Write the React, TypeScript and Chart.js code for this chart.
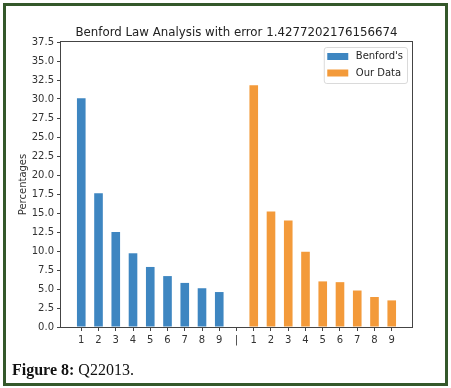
import React, { useEffect, useRef } from "react";
import { Chart, registerables } from "chart.js";

Chart.register(...registerables);

const categories = ["1", "2", "3", "4", "5", "6", "7", "8", "9", "|", "1", "2", "3", "4", "5", "6", "7", "8", "9"];
const benfordValues = [30.1, 17.6, 12.5, 9.7, 7.9, 6.7, 5.8, 5.1, 4.6];
const ourDataValues = [31.8, 15.2, 14.0, 9.9, 6.0, 5.9, 4.8, 3.95, 3.5];
const benfordStart = 0;
const ourStart = 10;
const yTicks = { min: 0, max: 37.5, step: 2.5 };
const titleText = "Benford Law Analysis with error 1.4277202176156674";
const yTitle = "Percentages";
const seriesNames = ["Benford's", "Our Data"];
const seriesColors = ["#3e86c1", "#f39a3a"];

const FONT = "'DejaVu Sans', sans-serif";

const framePlugin = {
  id: "frame",
  afterDatasetsDraw(chart: any) {
    const { ctx, chartArea: a } = chart;
    ctx.save();
    ctx.strokeStyle = "#444";
    ctx.lineWidth = 1;
    ctx.strokeRect(a.left - 0.5, a.top - 0.5, a.right - a.left + 1, a.bottom - a.top + 1);
    ctx.restore();
  },
  afterDraw(chart: any) {
    const { ctx, chartArea: a } = chart;
    const ds = chart.data.datasets;
    ctx.save();
    // title centred over the plot area
    ctx.font = "11.8px " + FONT;
    ctx.fillStyle = "#222";
    ctx.textAlign = "center";
    ctx.textBaseline = "alphabetic";
    ctx.fillText(titleText, (a.left + a.right) / 2, a.top - 6.5);

    // legend
    ctx.font = "10px " + FONT;
    const tw = Math.max(...ds.map((d: any) => ctx.measureText(d.label).width));
    const boxW = 3 + 21 + 8 + tw + 4;
    const boxH = 36;
    const x = a.right - 5 - boxW;
    const y = a.top + 5;
    ctx.globalAlpha = 0.9;
    ctx.fillStyle = "#ffffff";
    ctx.strokeStyle = "#d6d6d6";
    ctx.lineWidth = 1;
    ctx.beginPath();
    (ctx as any).roundRect(x + 0.5, y + 0.5, boxW, boxH, 2.5);
    ctx.fill();
    ctx.stroke();
    ctx.globalAlpha = 1;
    ds.forEach((d: any, i: number) => {
      const cy = y + 9.5 + i * 16.5;
      ctx.fillStyle = d.backgroundColor;
      ctx.fillRect(x + 3.5, cy - 3.5, 21, 7);
      ctx.fillStyle = "#262626";
      ctx.textBaseline = "middle";
      ctx.textAlign = "left";
      ctx.fillText(d.label, x + 32, cy);
    });
    ctx.restore();
  },
};

export default function App() {
  const ref = useRef<HTMLCanvasElement | null>(null);

  useEffect(() => {
    if (!ref.current) return;
    const chart = new Chart(ref.current, {
      type: "bar",
      data: {
        datasets: [
          {
            label: seriesNames[0],
            data: benfordValues.map((v, i) => ({ x: benfordStart + i, y: v })),
            backgroundColor: seriesColors[0],
            grouped: false,
            barPercentage: 0.5,
            categoryPercentage: 1,
          } as any,
          {
            label: seriesNames[1],
            data: ourDataValues.map((v, i) => ({ x: ourStart + i, y: v })),
            backgroundColor: seriesColors[1],
            grouped: false,
            barPercentage: 0.5,
            categoryPercentage: 1,
          } as any,
        ],
      },
      options: {
        responsive: false,
        animation: false,
        devicePixelRatio: 1,
        layout: { padding: { left: 0, right: 39, top: 42, bottom: 0 } },
        plugins: {
          legend: { display: false },
          tooltip: { enabled: false },
          title: { display: false },
        },
        scales: {
          x: {
            type: "linear",
            offset: false,
            min: -1.175,
            max: 19.175,
            afterFit(scale: any) {
              scale.height = 61;
            },
            afterBuildTicks(scale: any) {
              scale.ticks = categories.map((_, i) => ({ value: i }));
            },
            ticks: {
              autoSkip: false,
              maxRotation: 0,
              padding: 3,
              color: "#333",
              font: { family: FONT, size: 10 },
              callback: (v: any) => categories[v] ?? "",
            },
            grid: { offset: false, drawOnChartArea: false, drawTicks: true, tickLength: 4, color: "#444" },
            border: { display: false },
          },
          y: {
            min: yTicks.min,
            max: yTicks.max,
            afterFit(scale: any) {
              scale.width = 61;
            },
            ticks: {
              stepSize: yTicks.step,
              padding: 3,
              color: "#333",
              font: { family: FONT, size: 10 },
              callback: (v: any) => Number(v).toFixed(1),
            },
            grid: { drawOnChartArea: false, drawTicks: true, tickLength: 4, color: "#444" },
            border: { display: false },
            title: {
              display: true,
              text: yTitle,
              color: "#333",
              font: { family: FONT, size: 10 },
              padding: { top: 17, bottom: 0 },
            },
          },
        },
      },
      plugins: [framePlugin],
    });
    return () => chart.destroy();
  }, []);

  return (
    <div style={{ position: "fixed", left: 0, top: 0, width: 451, height: 388, background: "#fff" }}>
      <canvas ref={ref} width={451} height={388} style={{ position: "absolute", left: 0, top: 0 }} />
      <div
        style={{
          position: "absolute",
          left: 3,
          top: 3,
          width: 439,
          height: 377,
          border: "3px solid #34582a",
          pointerEvents: "none",
        }}
      />
      <div
        style={{
          position: "absolute",
          left: 12,
          top: 362,
          fontFamily: "'Liberation Serif', serif",
          fontSize: 16,
          lineHeight: "16px",
          color: "#111",
          whiteSpace: "nowrap",
        }}
      >
        <b>Figure 8:</b> Q22013.
      </div>
    </div>
  );
}
